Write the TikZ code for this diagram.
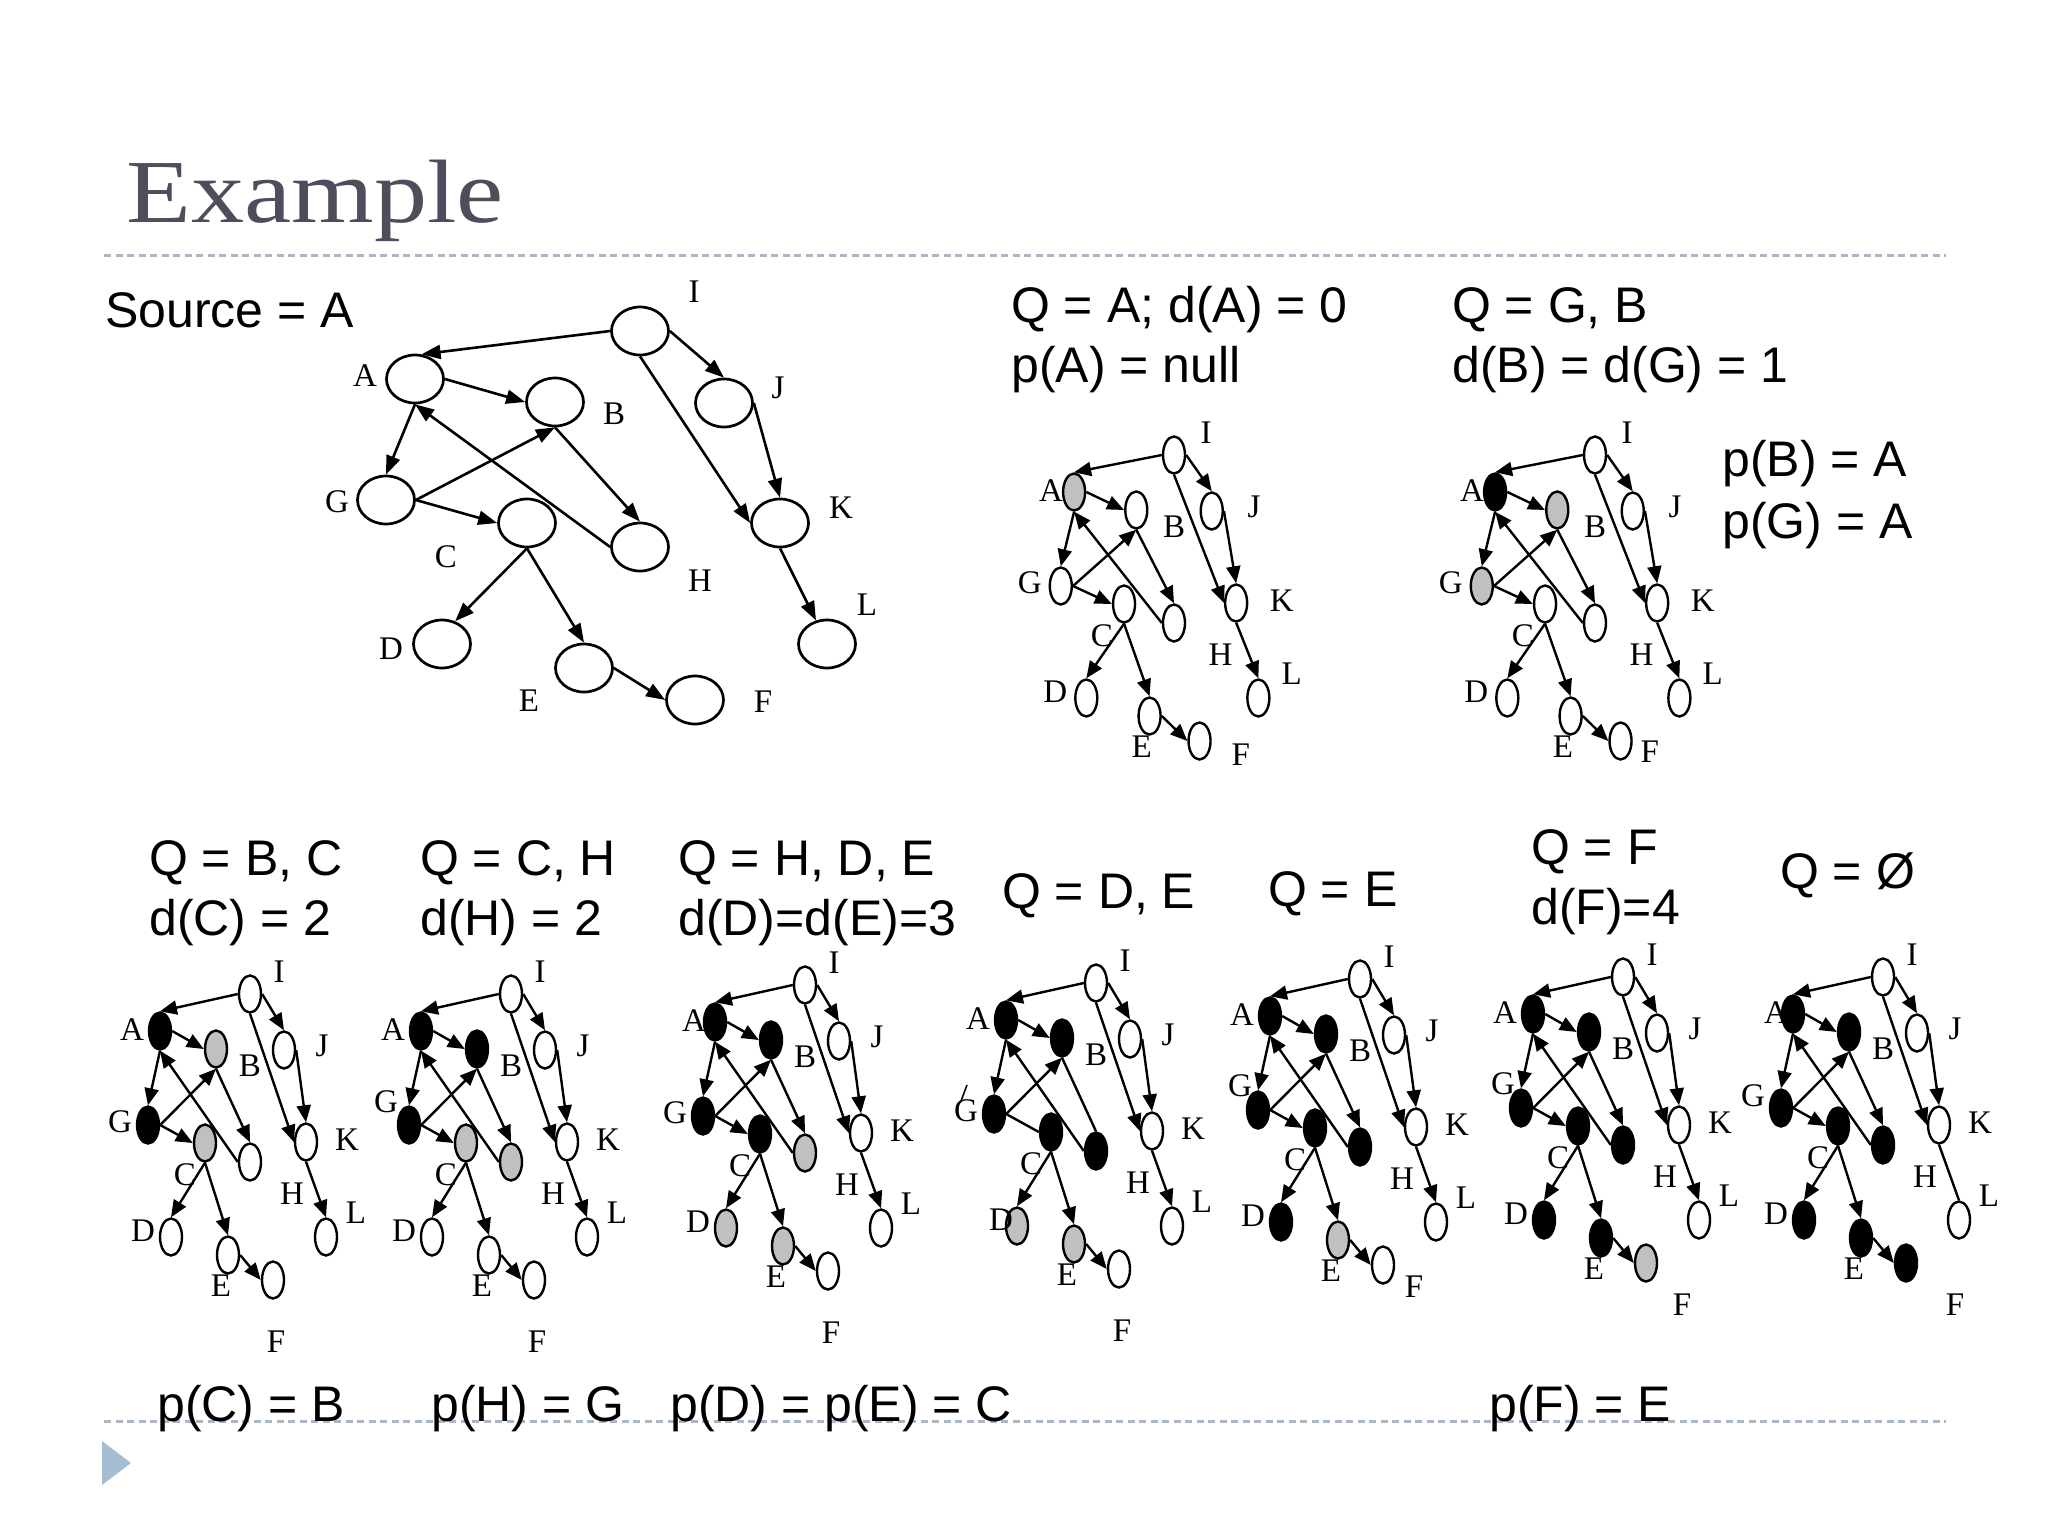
\documentclass[tikz,border=0pt]{standalone}
\usepackage{fontspec}
\setmainfont{Liberation Serif}
\setsansfont{Liberation Sans}
\usetikzlibrary{arrows.meta,shapes.geometric}
\definecolor{titlec}{RGB}{77,77,92}
\definecolor{dashc}{RGB}{168,184,202}
\definecolor{gryc}{RGB}{192,192,192}
\definecolor{tric}{RGB}{166,190,212}
\tikzset{
 big/.style={draw, ellipse, line width=2.7pt, minimum width=57pt, minimum height=48pt, inner sep=0pt, fill=white},
 sn/.style={draw, ellipse, line width=2.4pt, minimum width=22pt, minimum height=37pt, inner sep=0pt, fill=white},
 lab/.style={font=\fontsize{33}{33}\selectfont, inner sep=0pt},
 txt/.style={font=\sffamily\fontsize{50}{50}\selectfont, inner sep=0pt, anchor=base west},
 arr/.style={-{Triangle[length=19pt,width=14pt]}},
 sarr/.style={-{Triangle[length=17pt,width=14pt]}},
 bedge/.style={line width=2.6pt, arr},
 sedge/.style={line width=2.4pt},
 blk/.style={fill=black},
 gry/.style={fill=gryc},
 stI/.style={}, stA/.style={}, stB/.style={}, stJ/.style={}, stG/.style={}, stC/.style={},
 stH/.style={}, stK/.style={}, stD/.style={}, stL/.style={}, stE/.style={}, stF/.style={},
 lI/.style={}, lA/.style={}, lB/.style={}, lJ/.style={}, lG/.style={}, lC/.style={},
 lH/.style={}, lK/.style={}, lD/.style={}, lL/.style={}, lE/.style={}, lF/.style={},
 eIA/.style={sarr}, eIJ/.style={sarr}, eIK/.style={sarr}, eAB/.style={sarr}, eAG/.style={sarr},
 eGB/.style={sarr}, eGC/.style={sarr}, eBH/.style={sarr}, eHA/.style={sarr}, eCD/.style={sarr},
 eCE/.style={sarr}, eEF/.style={sarr}, eJK/.style={sarr}, eKL/.style={sarr},
}
\newcommand\mygraph[4]{%
\begin{scope}[shift={(#2)},#4]
\pgfmathsetmacro\s{#3}
\node[sn,stI] (#1I) at (0,0) {};
\node[sn,stA] (#1A) at ({-90*\s},37) {};
\node[sn,stB] (#1B) at ({-34*\s},55) {};
\node[sn,stJ] (#1J) at ({34*\s},56) {};
\node[sn,stG] (#1G) at ({-102*\s},131) {};
\node[sn,stC] (#1C) at ({-45*\s},149) {};
\node[sn,stH] (#1H) at (0,168) {};
\node[sn,stK] (#1K) at ({56*\s},148) {};
\node[sn,stD] (#1D) at ({-79*\s},243) {};
\node[sn,stL] (#1L) at ({76*\s},243) {};
\node[sn,stE] (#1E) at ({-22*\s},261) {};
\node[sn,stF] (#1F) at ({23*\s},286) {};
\node[lab,lI] (#1tI) at ({29*\s},-22) {I};
\node[lab,lA] (#1tA) at ({-118*\s},36) {A};
\node[lab,lB] (#1tB) at (0,72) {B};
\node[lab,lJ] (#1tJ) at ({72*\s},52) {J};
\node[lab,lG] (#1tG) at ({-130*\s},128) {G};
\node[lab,lC] (#1tC) at ({-65*\s},181) {C};
\node[lab,lK] (#1tK) at ({97*\s},146) {K};
\node[lab,lH] (#1tH) at ({42*\s},200) {H};
\node[lab,lL] (#1tL) at ({106*\s},219) {L};
\node[lab,lD] (#1tD) at ({-107*\s},237) {D};
\node[lab,lE] (#1tE) at ({-29*\s},292) {E};
\node[lab,lF] (#1tF) at ({26*\s},348) {F};
\draw[sedge,eIA] (#1I.west) -- (#1A.north);
\draw[sedge,eIJ] (#1I.east) -- (#1J.north);
\draw[sedge,eIK] (#1I.south) -- (#1K.west);
\draw[sedge,eAB] (#1A.east) -- (#1B.west);
\draw[sedge,eAG] (#1A.south) -- (#1G.north);
\draw[sedge,eGB] (#1G.east) -- (#1B.south);
\draw[sedge,eGC] (#1G.east) -- (#1C.west);
\draw[sedge,eBH] (#1B.south) -- (#1H.north);
\draw[sedge,eHA] (#1H.west) -- (#1A.south);
\draw[sedge,eCD] (#1C.south) -- (#1D.north);
\draw[sedge,eCE] (#1C.south) -- (#1E.north);
\draw[sedge,eEF] (#1E.east) -- (#1F.west);
\draw[sedge,eJK] (#1J.east) -- (#1K.north);
\draw[sedge,eKL] (#1K.south) -- (#1L.north);
\end{scope}}
\begin{document}
\begin{tikzpicture}[x=1pt,y=-1pt]
\useasboundingbox[fill=white] (0,0) rectangle (2048,1536);
% title and rules
\node[anchor=base west, inner sep=0pt, text=titlec, font=\fontsize{90}{90}\selectfont, xscale=1.18] (title) at (126,222) {Example};
\draw[dashc, line width=3pt, dash pattern=on 7pt off 4.5pt] (104,255) -- (1946,255);
\draw[dashc, line width=3pt, dash pattern=on 7pt off 4.5pt] (104,1421) -- (1946,1421);
\fill[tric] (102,1441) -- (131,1463) -- (102,1485) -- cycle;
% texts
\node[txt] (t1) at (105,327) {Source = A};
\node[txt] (t2) at (1011,322) {Q = A; d(A) = 0};
\node[txt] (t3) at (1011,382) {p(A) = null};
\node[txt] (t4) at (1452,322) {Q = G, B};
\node[txt] (t5) at (1452,382) {d(B) = d(G) = 1};
\node[txt] (t6) at (1722,476) {p(B) = A};
\node[txt] (t7) at (1722,538) {p(G) = A};
\node[txt] (t8) at (149,875) {Q = B, C};
\node[txt] (t9) at (149,935) {d(C) = 2};
\node[txt] (t10) at (420,875) {Q = C, H};
\node[txt] (t11) at (420,935) {d(H) = 2};
\node[txt] (t12) at (678,875) {Q = H, D, E};
\node[txt] (t13) at (678,935) {d(D)=d(E)=3};
\node[txt] (t14) at (1002,908) {Q = D, E};
\node[txt] (t15) at (1268,906) {Q = E};
\node[txt] (t16) at (1531,864) {Q = F};
\node[txt] (t17) at (1531,924) {d(F)=4};
\node[txt] (t18) at (1780,888) {Q = Ø};
\node[txt] (t19) at (157,1421) {p(C) = B};
\node[txt] (t20) at (431,1421) {p(H) = G};
\node[txt] (t21) at (670,1421) {p(D) = p(E) = C};
\node[txt] (t22) at (1489,1421) {p(F) = E};
% big graph
\node[big] (I) at (640,331) {};
\node[big] (A) at (415,379) {};
\node[big] (B) at (555,402) {};
\node[big] (J) at (724,403) {};
\node[big] (G) at (386,500) {};
\node[big] (C) at (527,523) {};
\node[big] (H) at (640,547) {};
\node[big] (K) at (780,523) {};
\node[big] (D) at (442,644) {};
\node[big] (L) at (827,644) {};
\node[big] (E) at (584,668) {};
\node[big] (F) at (695,700) {};
\node[lab] (tI) at (694,292) {I};
\node[lab] (tA) at (365,376) {A};
\node[lab] (tB) at (614,414) {B};
\node[lab] (tJ) at (778,388) {J};
\node[lab] (tG) at (337,502) {G};
\node[lab] (tC) at (446,557) {C};
\node[lab] (tH) at (700,581) {H};
\node[lab] (tK) at (841,508) {K};
\node[lab] (tL) at (867,605) {L};
\node[lab] (tD) at (391,649) {D};
\node[lab] (tE) at (529,701) {E};
\node[lab] (tF) at (763,702) {F};
\draw[bedge] (I.west) -- (A.75);
\draw[bedge] (I.east) -- (J.north);
\draw[bedge] (I.south) -- (K.west);
\draw[bedge] (A.east) -- (B.west);
\draw[bedge] (A.south) -- (G.north);
\draw[bedge] (G.east) -- (B.south);
\draw[bedge] (G.east) -- (C.west);
\draw[bedge] (B.south) -- (H.north);
\draw[bedge] (H.west) -- (A.south);
\draw[bedge] (C.south) -- (D.60);
\draw[bedge] (C.south) -- (E.north);
\draw[bedge] (E.east) -- (F.west);
\draw[bedge] (J.east) -- (K.north);
\draw[bedge] (K.south) -- (L.115);
% small graphs
\mygraph{ga}{1174,455}{1.11}{stA/.style={gry}, lF/.style={xshift=38pt,yshift=48pt}, lA/.style={xshift=8pt}}
\mygraph{gb}{1595,455}{1.11}{stA/.style={blk}, stB/.style={gry}, stG/.style={gry}, lF/.style={xshift=26pt,yshift=51pt}, lA/.style={xshift=8pt}}
\mygraph{gc}{250,994}{1}{stA/.style={blk}, stG/.style={blk}, stB/.style={gry}, stC/.style={gry}}
\mygraph{gd}{511,994}{1}{stA/.style={blk}, stB/.style={blk}, stG/.style={blk}, stC/.style={gry}, stH/.style={gry}, lG/.style={xshift=5pt,yshift=20pt}}
\mygraph{ge}{805,985}{1}{stA/.style={blk}, stB/.style={blk}, stG/.style={blk}, stC/.style={blk}, stH/.style={gry}, stD/.style={gry}, stE/.style={gry}, lA/.style={xshift=7pt}}
\mygraph{gf}{1096,983}{1}{stA/.style={blk}, stB/.style={blk}, stG/.style={blk}, stC/.style={blk}, stH/.style={blk}, stD/.style={gry}, stE/.style={gry}, eGC/.style={}, eBH/.style={}, lD/.style={xshift=12pt}}
\mygraph{gg}{1360,979}{1}{stA/.style={blk}, stB/.style={blk}, stG/.style={blk}, stC/.style={blk}, stH/.style={blk}, stD/.style={blk}, stE/.style={gry}, lG/.style={xshift=10pt,yshift=21pt}, lF/.style={xshift=28pt,yshift=40pt}}
\mygraph{gh}{1623,977}{1}{stA/.style={blk}, stB/.style={blk}, stG/.style={blk}, stC/.style={blk}, stH/.style={blk}, stD/.style={blk}, stE/.style={blk}, stF/.style={gry}, lG/.style={xshift=10pt,yshift=21pt}, lF/.style={xshift=33pt,yshift=20pt}}
\mygraph{gi}{1883,977}{1}{stA/.style={blk}, stB/.style={blk}, stG/.style={blk}, stC/.style={blk}, stH/.style={blk}, stD/.style={blk}, stE/.style={blk}, stF/.style={blk}, eKL/.style={}, lG/.style={yshift=9pt}, lF/.style={xshift=46pt,yshift=20pt}, lA/.style={xshift=11pt}}
% stray mark near G in the Q = D, E graph
\coordinate (m1) at (961,1101);
\coordinate (m2) at (967,1085);
\draw[line width=1.5pt] (m1) -- (m2);
\end{tikzpicture}
\end{document}
